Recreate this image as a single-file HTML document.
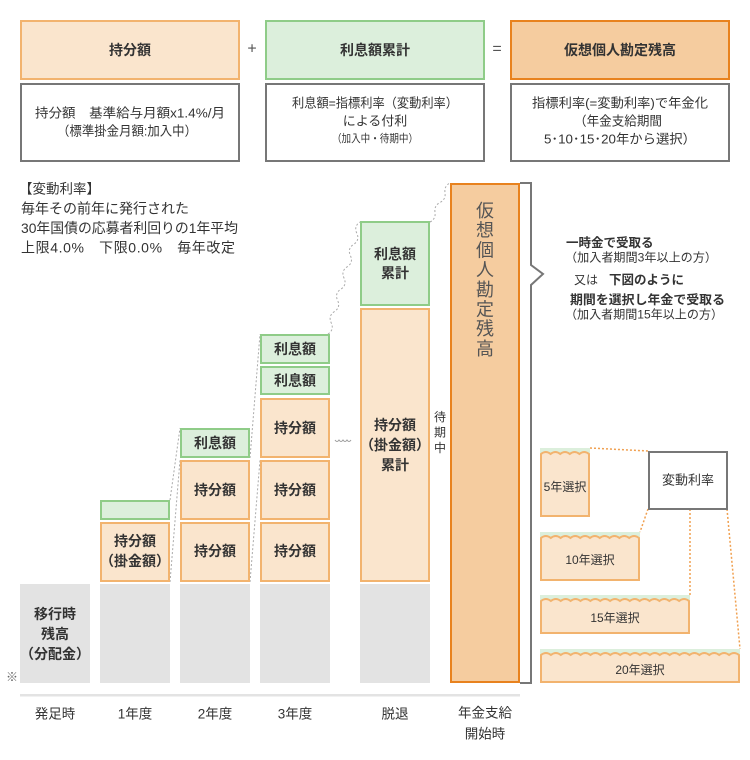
<!DOCTYPE html>
<html><head><meta charset="utf-8"><style>
html,body{margin:0;padding:0;background:#fff;}
svg{display:block;}
text{font-family:"Liberation Sans","Noto Sans CJK JP",sans-serif;fill:#333;}
.c{text-anchor:middle;dominant-baseline:central;}
.l{dominant-baseline:central;}
.b{font-weight:bold;}
</style></head><body>
<svg width="750" height="760" viewBox="0 0 750 760" xmlns="http://www.w3.org/2000/svg">
<!-- top header boxes -->
<rect x="21" y="21" width="218" height="58" fill="#fae5cd" stroke="#f2b36e" stroke-width="2"/>
<rect x="266" y="21" width="218" height="58" fill="#dcefdc" stroke="#8fcc88" stroke-width="2"/>
<rect x="511" y="21" width="218" height="58" fill="#f5cc9f" stroke="#e8821e" stroke-width="2"/>
<text class="c b" x="130" y="50" font-size="14">持分額</text>
<text class="c b" x="375" y="50" font-size="14">利息額累計</text>
<text class="c b" x="620" y="50" font-size="14">仮想個人勘定残高</text>
<text class="c" x="252" y="49" font-size="16" style="fill:#555">+</text>
<text class="c" x="497" y="49" font-size="16" style="fill:#555">=</text>

<!-- desc boxes -->
<rect x="21" y="84" width="218" height="77" fill="#fff" stroke="#777" stroke-width="2"/>
<rect x="266" y="84" width="218" height="77" fill="#fff" stroke="#777" stroke-width="2"/>
<rect x="511" y="84" width="218" height="77" fill="#fff" stroke="#777" stroke-width="2"/>
<text class="c" x="130" y="113" font-size="13" textLength="190" lengthAdjust="spacingAndGlyphs">持分額　基準給与月額x1.4%/月</text>
<text class="c" x="127" y="131" font-size="13" textLength="140" lengthAdjust="spacingAndGlyphs">（標準掛金月額:加入中）</text>
<text class="c" x="375" y="103" font-size="13" textLength="166" lengthAdjust="spacingAndGlyphs">利息額=指標利率（変動利率）</text>
<text class="c" x="375" y="121" font-size="13">による付利</text>
<text class="c" x="375" y="139" font-size="11" textLength="86" lengthAdjust="spacingAndGlyphs">（加入中・待期中）</text>
<text class="c" x="620" y="103" font-size="13" textLength="176" lengthAdjust="spacingAndGlyphs">指標利率(=変動利率)で年金化</text>
<text class="c" x="618" y="121" font-size="13" textLength="88" lengthAdjust="spacingAndGlyphs">（年金支給期間</text>
<text class="c" x="620" y="139" font-size="13" textLength="152" lengthAdjust="spacingAndGlyphs">5･10･15･20年から選択）</text>

<!-- left explanatory text -->
<text class="l" x="19" y="189" font-size="13.5">【変動利率】</text>
<text class="l" x="21" y="208.5" font-size="14">毎年その前年に発行された</text>
<text class="l" x="21" y="228" font-size="14" textLength="217" lengthAdjust="spacingAndGlyphs">30年国債の応募者利回りの1年平均</text>
<text class="l" x="21" y="247.5" font-size="14" textLength="214" lengthAdjust="spacing">上限4.0%　下限0.0%　毎年改定</text>

<!-- gray base blocks -->
<rect x="20" y="584" width="70" height="99" fill="#e3e3e3"/>
<rect x="100" y="584" width="70" height="99" fill="#e3e3e3"/>
<rect x="180" y="584" width="70" height="99" fill="#e3e3e3"/>
<rect x="260" y="584" width="70" height="99" fill="#e3e3e3"/>
<rect x="360" y="584" width="70" height="99" fill="#e3e3e3"/>
<text class="c b" x="55" y="614" font-size="14">移行時</text>
<text class="c b" x="55" y="634" font-size="14">残高</text>
<text class="c b" x="55" y="654" font-size="14">（分配金）</text>
<text class="c" x="12" y="677" font-size="12" style="fill:#666">※</text>

<!-- dotted gray connectors -->
<g stroke="#aaa" stroke-width="1" stroke-dasharray="2,2" fill="none">
<line x1="170" y1="582" x2="180" y2="460"/>
<line x1="170" y1="500" x2="180" y2="428"/>
<line x1="250" y1="582" x2="260" y2="460"/>
<line x1="250" y1="458" x2="260" y2="334"/>
<path d="M328 334 Q334.4 329.8 331.2 322.8 Q328 315.8 334.4 311.6 Q340.8 307.4 337.6 300.4 Q334.4 293.4 340.8 289.2 Q347.2 285 344 278 Q340.8 271 347.2 266.8 Q353.6 262.6 350.4 255.6 Q347.2 248.6 353.6 244.4 Q360 240.2 356.8 233.2 Q353.6 226.2 360 222"/>
<path d="M430 222 Q436 218.9 435 212.25 Q434 205.6 440 202.5 Q446 199.4 445 192.75 Q444 186.1 450 183"/>
</g>
<path d="M335 440 q2 3 4 0 q2 3 4 0 q2 3 4 0 q2 3 4 0" stroke="#999" stroke-width="1" fill="none"/>

<!-- column 1 -->
<rect x="101" y="501" width="68" height="18" fill="#dcefdc" stroke="#8fcc88" stroke-width="2"/>
<rect x="101" y="523" width="68" height="58" fill="#fae5cd" stroke="#f2b36e" stroke-width="2"/>
<text class="c b" x="135" y="541" font-size="14">持分額</text>
<text class="c b" x="135" y="561" font-size="14">（掛金額）</text>

<!-- column 2 -->
<rect x="181" y="429" width="68" height="28" fill="#dcefdc" stroke="#8fcc88" stroke-width="2"/>
<rect x="181" y="461" width="68" height="58" fill="#fae5cd" stroke="#f2b36e" stroke-width="2"/>
<rect x="181" y="523" width="68" height="58" fill="#fae5cd" stroke="#f2b36e" stroke-width="2"/>
<text class="c b" x="215" y="443" font-size="14">利息額</text>
<text class="c b" x="215" y="490" font-size="14">持分額</text>
<text class="c b" x="215" y="551" font-size="14">持分額</text>

<!-- column 3 -->
<rect x="261" y="335" width="68" height="28" fill="#dcefdc" stroke="#8fcc88" stroke-width="2"/>
<rect x="261" y="367" width="68" height="27" fill="#dcefdc" stroke="#8fcc88" stroke-width="2"/>
<rect x="261" y="399" width="68" height="58" fill="#fae5cd" stroke="#f2b36e" stroke-width="2"/>
<rect x="261" y="461" width="68" height="58" fill="#fae5cd" stroke="#f2b36e" stroke-width="2"/>
<rect x="261" y="523" width="68" height="58" fill="#fae5cd" stroke="#f2b36e" stroke-width="2"/>
<text class="c b" x="295" y="349" font-size="14">利息額</text>
<text class="c b" x="295" y="380.5" font-size="14">利息額</text>
<text class="c b" x="295" y="428" font-size="14">持分額</text>
<text class="c b" x="295" y="490" font-size="14">持分額</text>
<text class="c b" x="295" y="551" font-size="14">持分額</text>

<!-- 脱退 column -->
<rect x="361" y="222" width="68" height="83" fill="#dcefdc" stroke="#8fcc88" stroke-width="2"/>
<rect x="361" y="309" width="68" height="272" fill="#fae5cd" stroke="#f2b36e" stroke-width="2"/>
<text class="c b" x="395" y="254" font-size="14">利息額</text>
<text class="c b" x="395" y="273" font-size="14">累計</text>
<text class="c b" x="395" y="425" font-size="14">持分額</text>
<text class="c b" x="395" y="445" font-size="14">（掛金額）</text>
<text class="c b" x="395" y="465" font-size="14">累計</text>
<text class="c" x="440" y="417" font-size="12">待</text>
<text class="c" x="440" y="432.5" font-size="12">期</text>
<text class="c" x="440" y="448" font-size="12">中</text>

<!-- big column -->
<rect x="451" y="184" width="68" height="498" fill="#f5cc9f" stroke="#e8821e" stroke-width="2"/>
<g font-size="18" style="fill:#555">
<text class="c" x="485" y="211" style="fill:#555">仮</text>
<text class="c" x="485" y="230.7" style="fill:#555">想</text>
<text class="c" x="485" y="250.4" style="fill:#555">個</text>
<text class="c" x="485" y="270.1" style="fill:#555">人</text>
<text class="c" x="485" y="289.8" style="fill:#555">勘</text>
<text class="c" x="485" y="309.5" style="fill:#555">定</text>
<text class="c" x="485" y="329.2" style="fill:#555">残</text>
<text class="c" x="485" y="349" style="fill:#555">高</text>
</g>

<!-- brace -->
<path d="M520 183 L531 183 L531 265 L543 274 L531 285 L531 683 L520 683" stroke="#777" stroke-width="2" fill="none"/>

<!-- baseline -->
<rect x="20" y="694" width="500" height="2.5" fill="#e3e3e3"/>
<text class="c" x="55" y="714" font-size="13.5">発足時</text>
<text class="c" x="135" y="714" font-size="13.5">1年度</text>
<text class="c" x="215" y="714" font-size="13.5">2年度</text>
<text class="c" x="295" y="714" font-size="13.5">3年度</text>
<text class="c" x="395" y="714" font-size="13.5">脱退</text>
<text class="c" x="485" y="713" font-size="13.5">年金支給</text>
<text class="c" x="485" y="734" font-size="13.5">開始時</text>

<!-- right explanation -->
<text class="l b" x="566" y="243" font-size="12.5">一時金で受取る</text>
<text class="l" x="565" y="257.5" font-size="12" textLength="152" lengthAdjust="spacingAndGlyphs">（加入者期間3年以上の方）</text>
<text class="l" x="574" y="280" font-size="12">又は</text>
<text class="l b" x="609" y="280" font-size="12.5">下図のように</text>
<text class="l b" x="570" y="300" font-size="12.5" textLength="155" lengthAdjust="spacingAndGlyphs">期間を選択し年金で受取る</text>
<text class="l" x="565" y="314.5" font-size="12" textLength="158" lengthAdjust="spacingAndGlyphs">（加入者期間15年以上の方）</text>

<!-- orange dotted connectors -->
<g stroke="#f0a050" stroke-width="1.5" stroke-dasharray="2,2" fill="none">
<line x1="590" y1="448" x2="648" y2="451"/>
<line x1="648" y1="509" x2="640" y2="532"/>
<line x1="690" y1="509" x2="690" y2="595"/>
<line x1="727" y1="509" x2="740" y2="649"/>
</g>

<!-- 変動利率 box -->
<rect x="649" y="452" width="78" height="57" fill="#fff" stroke="#777" stroke-width="2"/>
<text class="c" x="688" y="480" font-size="13">変動利率</text>

<!-- selection boxes -->
<rect x="540" y="448" width="50" height="8" fill="#dcefdc"/>
<path d="M541 516 L541 454 q4.8 -4 9.6 0 q4.8 -4 9.6 0 q4.8 -4 9.6 0 q4.8 -4 9.6 0 q4.8 -4 9.6 0 L589 516 Z" fill="#fae5cd" stroke="#f2b36e" stroke-width="2"/>
<text class="c" x="565" y="487" font-size="12">5年選択</text>

<rect x="540" y="532" width="100" height="8" fill="#dcefdc"/>
<path d="M541 580 L541 538 q4.9 -4 9.8 0 q4.9 -4 9.8 0 q4.9 -4 9.8 0 q4.9 -4 9.8 0 q4.9 -4 9.8 0 q4.9 -4 9.8 0 q4.9 -4 9.8 0 q4.9 -4 9.8 0 q4.9 -4 9.8 0 q4.9 -4 9.8 0 L639 580 Z" fill="#fae5cd" stroke="#f2b36e" stroke-width="2"/>
<text class="c" x="590" y="560" font-size="12">10年選択</text>

<rect x="540" y="595" width="150" height="8" fill="#dcefdc"/>
<path d="M541 633 L541 601 q4.933 -4 9.867 0 q4.933 -4 9.867 0 q4.933 -4 9.867 0 q4.933 -4 9.867 0 q4.933 -4 9.867 0 q4.933 -4 9.867 0 q4.933 -4 9.867 0 q4.933 -4 9.867 0 q4.933 -4 9.867 0 q4.933 -4 9.867 0 q4.933 -4 9.867 0 q4.933 -4 9.867 0 q4.933 -4 9.867 0 q4.933 -4 9.867 0 q4.933 -4 9.867 0 L689 633 Z" fill="#fae5cd" stroke="#f2b36e" stroke-width="2"/>
<text class="c" x="615" y="618" font-size="12">15年選択</text>

<rect x="540" y="649" width="200" height="8" fill="#dcefdc"/>
<path d="M541 682 L541 655 q4.95 -4 9.9 0 q4.95 -4 9.9 0 q4.95 -4 9.9 0 q4.95 -4 9.9 0 q4.95 -4 9.9 0 q4.95 -4 9.9 0 q4.95 -4 9.9 0 q4.95 -4 9.9 0 q4.95 -4 9.9 0 q4.95 -4 9.9 0 q4.95 -4 9.9 0 q4.95 -4 9.9 0 q4.95 -4 9.9 0 q4.95 -4 9.9 0 q4.95 -4 9.9 0 q4.95 -4 9.9 0 q4.95 -4 9.9 0 q4.95 -4 9.9 0 q4.95 -4 9.9 0 q4.95 -4 9.9 0 L739 682 Z" fill="#fae5cd" stroke="#f2b36e" stroke-width="2"/>
<text class="c" x="640" y="670" font-size="12">20年選択</text>
</svg>
</body></html>
